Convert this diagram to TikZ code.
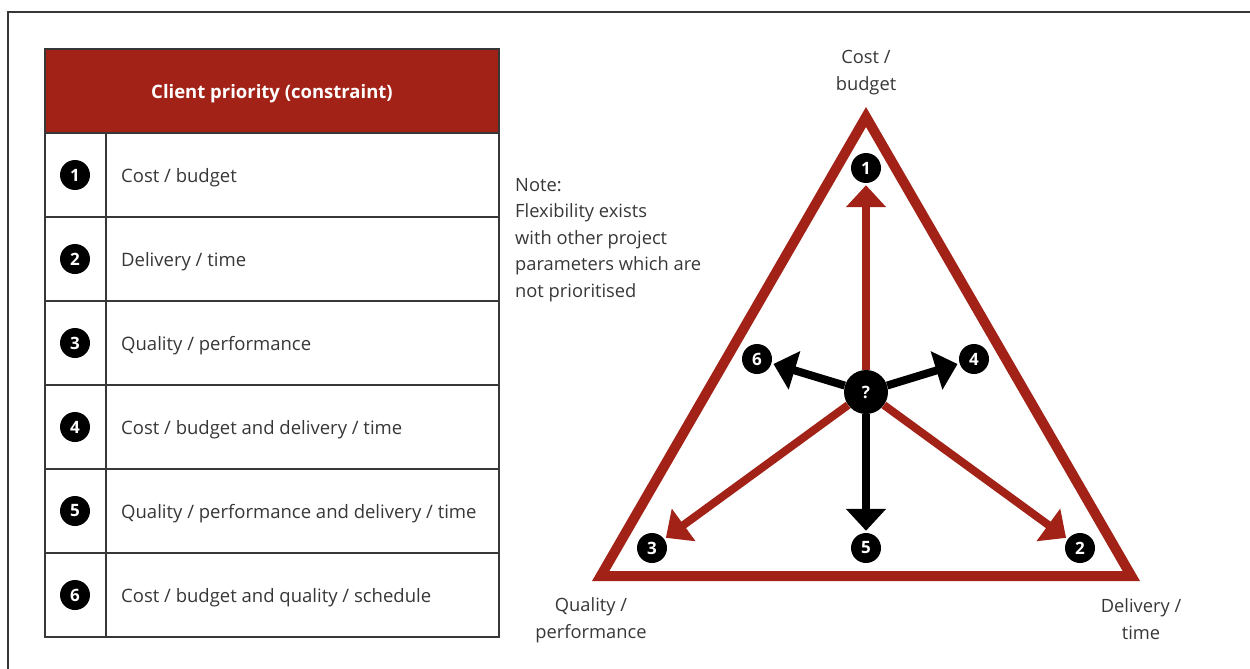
\documentclass[tikz,border=0pt]{standalone}
\usepackage{fontspec}
\setmainfont{Open Sans}
\usetikzlibrary{arrows.meta,positioning}
\definecolor{brickred}{RGB}{163,34,23}
\definecolor{inkgray}{RGB}{55,55,55}

\begin{document}
\begin{tikzpicture}[x=1pt,y=-1pt,
  numdot/.style={circle,fill=black,text=white,inner sep=0pt,minimum size=30pt,
    font=\fontsize{17}{17}\selectfont\bfseries},
  hubdot/.style={numdot,minimum size=44pt},
  rowtext/.style={anchor=west,text=inkgray,inner sep=0pt,font=\fontsize{18.5}{22}\selectfont},
  cornertext/.style={align=center,text=inkgray,inner sep=0pt,font=\fontsize{18.3}{26.5}\selectfont},
  redarrow/.style={draw=brickred,line width=8pt,shorten >=2pt,-{Triangle[width=39pt,length=22pt]}},
  blackarrow/.style={draw=black,line width=8pt,shorten >=2pt,-{Triangle[width=39pt,length=22pt]}}]
  \useasboundingbox (0,0) rectangle (1250,669);

  % frame
  \draw[inkgray,line width=1.3pt] (8,669) -- (8,12) -- (1250,12);

  % table
  \fill[brickred] (45,49) rectangle (499,133);
  \node[text=white,font=\fontsize{18.5}{20}\selectfont\bfseries] (head) at (272,94) {Client priority (constraint)};
  \draw[inkgray,line width=1.2pt] (45,49) rectangle (499,637);
  \draw[inkgray,line width=1.2pt] (106,133) -- (106,637);
  \draw[inkgray,line width=1.2pt]
    (45,133) -- (499,133)
    (45,217) -- (499,217)
    (45,301) -- (499,301)
    (45,385) -- (499,385)
    (45,469) -- (499,469)
    (45,553) -- (499,553);

  \node[numdot] (r1) at (75,175) {1};
  \node[numdot] (r2) at (75,259) {2};
  \node[numdot] (r3) at (75,343) {3};
  \node[numdot] (r4) at (75,427) {4};
  \node[numdot] (r5) at (75,511) {5};
  \node[numdot] (r6) at (75,595) {6};
  \node[rowtext] (t1) at (121,178) {Cost / budget};
  \node[rowtext] (t2) at (121,262) {Delivery / time};
  \node[rowtext] (t3) at (121,346) {Quality / performance};
  \node[rowtext] (t4) at (121,430) {Cost / budget and delivery / time};
  \node[rowtext] (t5) at (121,514) {Quality / performance and delivery / time};
  \node[rowtext] (t6) at (121,598) {Cost / budget and quality / schedule};

  % note
  \node[cornertext,align=left,anchor=north west] (note) at (515,178)
    {Note:\\Flexibility exists\\with other project\\parameters which are\\not prioritised};

  % triangle
  \coordinate (apex) at (866,117);
  \coordinate (left) at (600.7,576);
  \coordinate (right) at (1131.3,576);
  \draw[brickred,line width=10pt,line join=miter] (apex) -- (left) -- (right) -- cycle;

  \node[cornertext] (cost) at (866,72.5) {Cost /\\budget};
  \node[cornertext] (quality) at (591,620) {Quality /\\performance};
  \node[cornertext] (delivery) at (1141,619) {Delivery /\\time};

  % priorities
  \node[hubdot] (hub) at (866,392) {?};
  \node[numdot] (d1) at (866,168) {1};
  \node[numdot] (d2) at (1080,548) {2};
  \node[numdot] (d3) at (652,548) {3};
  \node[numdot] (d4) at (974,359) {4};
  \node[numdot] (d5) at (866,548) {5};
  \node[numdot] (d6) at (757,359) {6};

  \path
    (hub) edge[redarrow] (d1)
    (hub) edge[redarrow] (d2)
    (hub) edge[redarrow] (d3)
    (hub) edge[blackarrow] (d4)
    (hub) edge[blackarrow] (d5)
    (hub) edge[blackarrow] (d6);
\end{tikzpicture}
\end{document}
